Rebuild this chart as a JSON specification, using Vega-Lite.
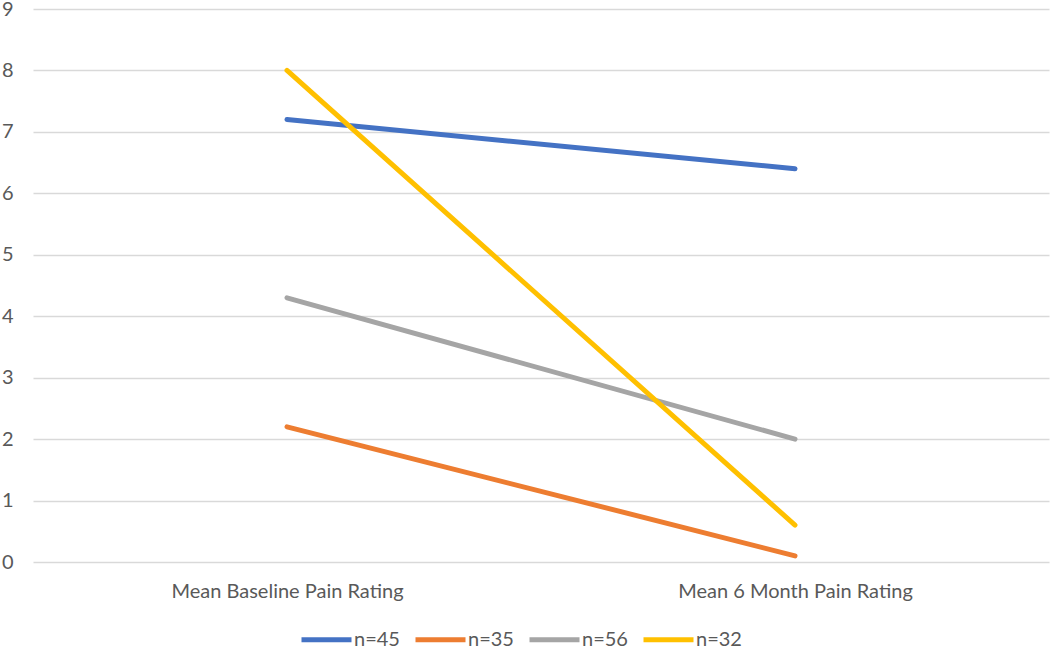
{
  "$schema": "https://vega.github.io/schema/vega-lite/v6.json",
  "autosize": "none",
  "width": 1016,
  "height": 553,
  "padding": {"left": 33, "top": 9, "right": 1, "bottom": 85},
  "background": "white",
  "config": {"view": {"stroke": null}, "font": "Lato"},
  "data": {"values": [
    {"time": "Mean Baseline Pain Rating", "group": "n=45", "rating": 7.2},
    {"time": "Mean 6 Month Pain Rating", "group": "n=45", "rating": 6.4},
    {"time": "Mean Baseline Pain Rating", "group": "n=35", "rating": 2.2},
    {"time": "Mean 6 Month Pain Rating", "group": "n=35", "rating": 0.1},
    {"time": "Mean Baseline Pain Rating", "group": "n=56", "rating": 4.3},
    {"time": "Mean 6 Month Pain Rating", "group": "n=56", "rating": 2.0},
    {"time": "Mean Baseline Pain Rating", "group": "n=32", "rating": 8.0},
    {"time": "Mean 6 Month Pain Rating", "group": "n=32", "rating": 0.6}
  ]},
  "mark": {"type": "line", "strokeWidth": 5, "strokeCap": "round"},
  "encoding": {
    "x": {
      "field": "time", "type": "nominal",
      "sort": ["Mean Baseline Pain Rating", "Mean 6 Month Pain Rating"],
      "scale": {"type": "point", "padding": 0.5},
      "axis": {"title": null, "labelAngle": 0, "labelLimit": 400, "domain": false, "ticks": false, "labelPadding": 19, "labelFontSize": 20, "labelColor": "#595959", "grid": false}
    },
    "y": {
      "field": "rating", "type": "quantitative",
      "scale": {"domain": [0, 9], "nice": false},
      "axis": {"title": null, "values": [0,1,2,3,4,5,6,7,8,9], "domain": false, "ticks": false, "labelPadding": 20, "labelFontSize": 20, "labelColor": "#595959", "gridColor": "#d9d9d9", "gridWidth": 1.5}
    },
    "color": {
      "field": "group", "type": "nominal",
      "sort": ["n=45", "n=35", "n=56", "n=32"],
      "scale": {"domain": ["n=45", "n=35", "n=56", "n=32"], "range": ["#4472c4", "#ed7d31", "#a5a5a5", "#ffc000"]},
      "legend": {
        "title": null, "orient": "none", "direction": "horizontal",
        "legendX": 266, "legendY": 603,
        "symbolType": "stroke", "symbolSize": 2500, "symbolStrokeWidth": 5,
        "labelFontSize": 20, "labelColor": "#595959", "labelOffset": 0,
        "columnPadding": 5
      }
    }
  }
}
